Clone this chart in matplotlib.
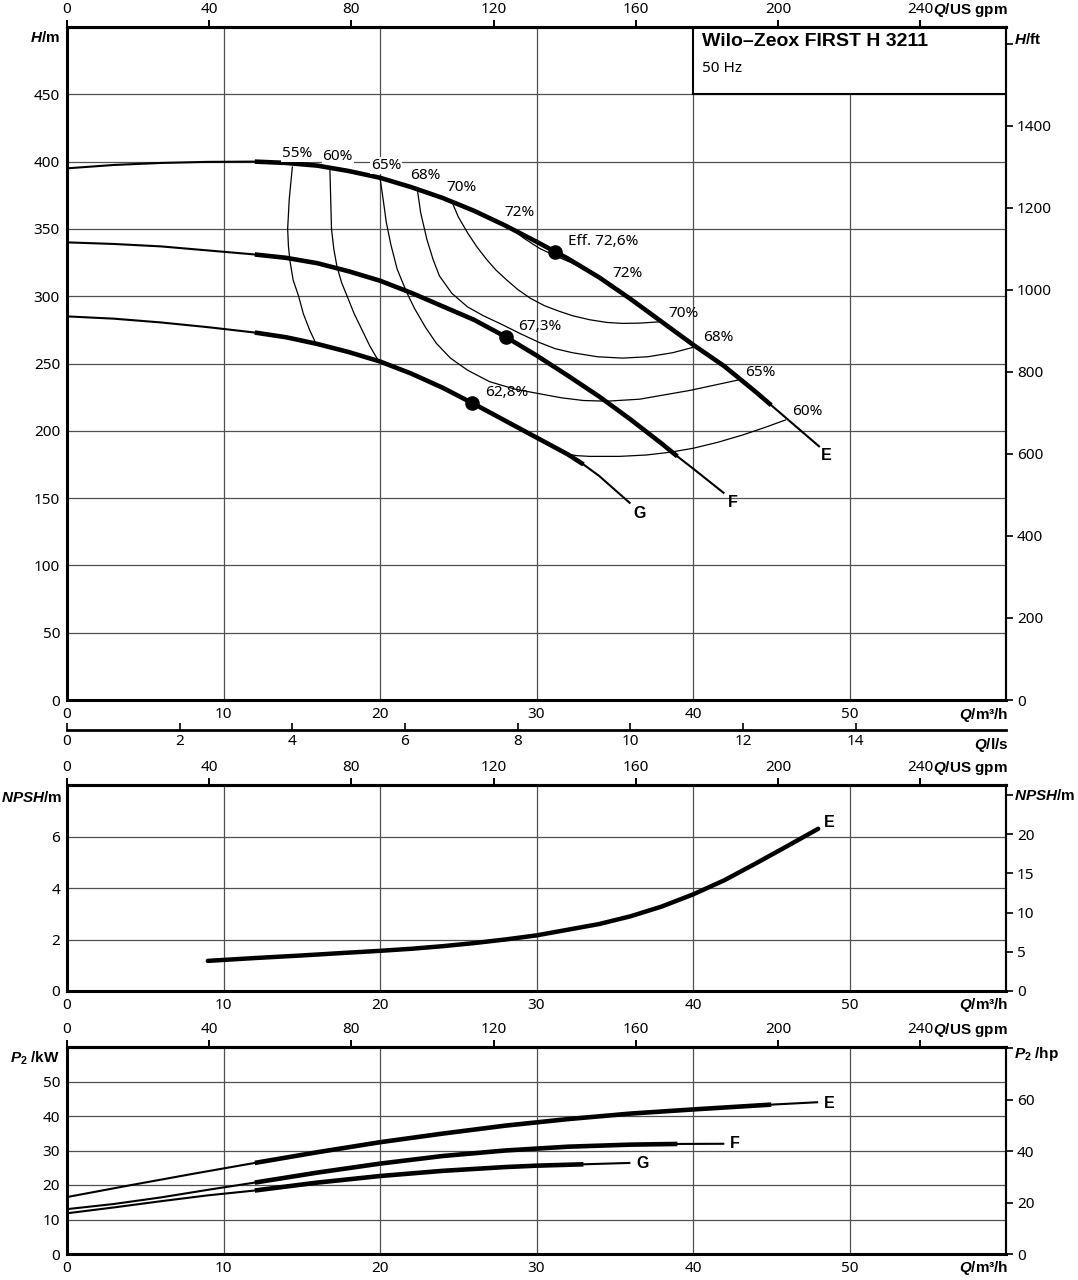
import numpy as np
import matplotlib.pyplot as plt
from matplotlib.patches import Rectangle

plt.rcParams['font.family'] = ['Noto Sans', 'DejaVu Sans']
plt.rcParams['mathtext.fontset'] = 'custom'
plt.rcParams['mathtext.rm'] = 'Liberation Sans:bold'
plt.rcParams['mathtext.it'] = 'Liberation Sans:italic:bold'
plt.rcParams['mathtext.bf'] = 'Liberation Sans:bold'
BOLD = 'Liberation Sans'

GPM = 4.40287   # US gpm per m3/h
FT = 3.28084    # ft per m
HP = 1.34102    # hp per kW

# ---- head curves, Q in m3/h, H in m
q_E = [0, 3, 6, 9, 12, 14, 16, 18, 20, 22, 24, 26, 28, 30, 31.2, 32, 34, 36, 38, 40,
       42, 44, 45, 46.5, 48.1]
h_E = [395, 397.5, 399, 399.8, 400, 399, 397, 393, 388, 381, 373, 363.5, 352.5, 340.5,
       333, 328, 314, 298, 281, 264, 248, 229, 219, 204, 188]
q_F = [0, 3, 6, 9, 12, 14, 16, 18, 20, 22, 24, 26, 28, 30, 32, 34, 36, 38, 39, 40, 42]
h_F = [340, 338.8, 337, 334, 331, 328.5, 324.5, 318.5, 311.5, 302.5, 292.5, 282.5, 270,
       256, 241, 225.5, 208.5, 190.5, 181, 172, 153.5]
q_G = [0, 3, 6, 9, 12, 14, 16, 18, 20, 22, 24, 26, 28, 30, 32, 33, 34, 36]
h_G = [285, 283.3, 280.5, 277, 273, 269.5, 264.5, 258.5, 251.5, 242.5, 232, 220, 207.5,
       195, 182.5, 175, 166.5, 146]
thick_E = (12, 45)
thick_F = (12, 39)
thick_G = (12, 33)

# best efficiency points
bep_q = [31.2, 28.05, 25.9]
bep_h = [333, 269.5, 220.6]
bep_txt = ['Eff. 72,6%', '67,3%', '62,8%']

# iso-efficiency lines
eta55_q = [14.4, 14.2, 14.1, 14.15, 14.25, 14.45, 14.8, 15.1, 15.5, 15.9]
eta55_h = [396, 372, 350, 337, 326, 312, 300, 287, 275, 265]
eta60_q = [16.8, 16.85, 16.9, 17.05, 17.25, 17.55, 17.9, 18.35, 18.85, 19.35, 19.9]
eta60_h = [394, 372, 350, 335, 322, 310, 300, 287, 275, 263, 252]
eta60b_q = [31.8, 32.6, 33.4, 35.3, 37, 38.5, 40, 41.6, 43.2, 44.6, 45.9]
eta60b_h = [183, 181.5, 181, 181, 182, 184, 187, 191.5, 197, 202.5, 208]
eta65_q = [20.0, 20.2, 20.4, 20.7, 21.1, 21.7, 22.2, 22.9, 23.6, 24.5, 25.6, 27.0, 28.6,
           30.2, 31.6, 33.0, 34.5, 36.6, 39.8, 43.0]
eta65_h = [388, 372, 355, 338, 320, 303, 291, 277, 265, 254, 245, 236.5, 231, 227.5,
           224.5, 222.5, 222, 223.5, 230, 238]
eta68_q = [22.4, 22.6, 23.0, 23.4, 23.8, 24.6, 25.6, 26.6, 27.7, 29, 30.2, 31.2, 32.3,
           33.9, 35.5, 37.1, 38.7, 40.0]
eta68_h = [378, 362, 342, 327, 315, 302, 292, 285.5, 279.5, 272, 265.5, 261, 258, 255,
           254, 255, 258, 262]
eta70_q = [24.6, 25.0, 25.6, 26.2, 26.8, 27.4, 28.1, 28.8, 29.6, 30.5, 31.4, 32.3, 33.4,
           34.5, 35.5, 36.6, 37.9]
eta70_h = [370, 359, 347, 336.5, 327.5, 319.5, 312, 305, 298.5, 293, 289, 285.5, 282.5,
           280.5, 279.8, 280, 281]
eta72_q = [28.3, 29.2, 30.2, 31.2, 32.3, 33.2, 34.1]
eta72_h = [351, 343, 335.5, 330, 324.5, 319, 313.5]

eta_labels = ['55%', '60%', '65%', '68%', '70%', '72%', '72%', '70%', '68%', '65%', '60%']
eta_lab_q = [14.7, 17.3, 20.4, 22.9, 25.2, 28.9, 35.8, 39.4, 41.6, 44.3, 47.3]
eta_lab_h = [406, 404, 397, 390, 381, 362, 317, 287, 269, 243, 214]

# NPSH curve
npsh_q = [9, 12, 15, 18, 20, 22, 24, 26, 28, 30, 32, 34, 36, 38, 40, 42, 44, 46, 48]
npsh_v = [1.17, 1.28, 1.38, 1.49, 1.56, 1.64, 1.74, 1.86, 2.0, 2.16, 2.38, 2.6, 2.9,
          3.28, 3.75, 4.3, 4.95, 5.62, 6.3]

# shaft power P2 in kW
p_qE = [0, 4, 8, 12, 16, 20, 24, 28, 32, 36, 40, 45, 48]
p_E = [16.5, 19.9, 23.2, 26.4, 29.5, 32.4, 34.9, 37.2, 39.1, 40.7, 41.9, 43.3, 44.0]
p_qF = [0, 3, 6, 9, 12, 16, 20, 24, 28, 32, 36, 39, 42]
p_F = [13.0, 14.5, 16.4, 18.6, 20.7, 23.6, 26.2, 28.4, 30.0, 31.1, 31.7, 31.9, 31.95]
p_qG = [0, 3, 6, 9, 12, 16, 20, 24, 28, 30, 33, 36]
p_G = [11.8, 13.5, 15.3, 17.0, 18.4, 20.7, 22.6, 24.1, 25.2, 25.6, 26.0, 26.4]

W, HT = 1078, 1280
fig = plt.figure(figsize=(W / 100, HT / 100), dpi=100)


def box(l, t, r, b):
    return [l / W, 1 - b / HT, (r - l) / W, (b - t) / HT]


def ftxt(x, y, s, **kw):
    fig.text(x / W, 1 - y / HT, s, **kw)


def style(ax, ymax, yticks, rfun, rticks, rtop):
    ax.set_xlim(0, 60)
    ax.set_ylim(0, ymax)
    ax.set_xticks([0, 10, 20, 30, 40, 50])
    ax.set_yticks(yticks)
    ax.grid(True, color='#505050', lw=0.9)
    ax.set_axisbelow(True)
    ax.tick_params(length=0, labelsize=11, pad=5)
    for s in ['left', 'bottom', 'top']:
        ax.spines[s].set_linewidth(2.2)
    ax.spines['right'].set_linewidth(1.5)
    top = ax.secondary_xaxis('top', functions=(lambda q: q * GPM, lambda g: g / GPM))
    top.set_ticks(list(range(0, 241, 40)))
    top.tick_params(direction='out', length=5, width=1.4, labelsize=11, pad=2)
    for sp in top.spines.values():
        sp.set_linewidth(2.2)
    r = ax.secondary_yaxis('right', functions=rfun)
    r.set_ticks(rticks + [rtop], labels=[str(v) for v in rticks] + [''])
    r.tick_params(direction='out', length=5, width=1.2, labelsize=11, pad=3)
    for sp in r.spines.values():
        sp.set_linewidth(1.5)


def curve(ax, q, v, thick):
    q = np.array(q)
    v = np.array(v)
    ax.plot(q, v, color='k', lw=1.5, solid_capstyle='butt', zorder=3)
    m = (q >= thick[0]) & (q <= thick[1])
    ax.plot(q[m], v[m], color='k', lw=3.3, solid_capstyle='butt',
            solid_joinstyle='round', zorder=3)


def name(ax, q, v, t):
    ax.text(q, v, t, fontsize=11.5, fontweight='bold', family=BOLD,
            ha='center', va='center')


# ---------------- head panel
ax = fig.add_axes(box(67, 27, 1006, 700))
style(ax, 500, list(range(0, 451, 50)),
      (lambda h: h * FT, lambda f: f / FT), list(range(0, 1401, 200)), 1600)

ls = ax.secondary_xaxis(-30 / 673, functions=(lambda q: q / 3.6, lambda l: l * 3.6))
ls.set_ticks(list(range(0, 15, 2)))
ls.tick_params(direction='in', length=5, width=1.2, labelsize=11, pad=3)
for sp in ls.spines.values():
    sp.set_linewidth(2)

for q, h in [(eta55_q, eta55_h), (eta60_q, eta60_h), (eta60b_q, eta60b_h),
             (eta65_q, eta65_h), (eta68_q, eta68_h), (eta70_q, eta70_h),
             (eta72_q, eta72_h)]:
    ax.plot(q, h, color='k', lw=0.9, zorder=2.5)

curve(ax, q_E, h_E, thick_E)
curve(ax, q_F, h_F, thick_F)
curve(ax, q_G, h_G, thick_G)
ax.plot(bep_q, bep_h, 'o', color='k', ms=9.5, zorder=5)
for q, h, t in zip(bep_q, bep_h, bep_txt):
    ax.text(q + 0.8, h + 8, t, fontsize=11, ha='left', va='center', zorder=4)

for i, (t, q, h) in enumerate(zip(eta_labels, eta_lab_q, eta_lab_h)):
    bb = dict(fc='white', ec='none', pad=0.6) if i < 3 else None
    ax.text(q, h, t, fontsize=11, ha='center', va='center', bbox=bb, zorder=4)

name(ax, 48.5, 181.5, 'E')
name(ax, 42.55, 146.6, 'F')
name(ax, 36.6, 138.4, 'G')

ax.add_patch(Rectangle((40, 450), 20, 50, fc='white', ec='k', lw=1.5, zorder=2))
ax.text(40.6, 489, 'Wilo–Zeox FIRST H 3211', fontsize=14, fontweight='bold',
        family=BOLD, ha='left', va='center', zorder=4)
ax.text(40.6, 469, '50 Hz', fontsize=11, ha='left', va='center', zorder=4)

# ---------------- NPSH panel
axn = fig.add_axes(box(67, 785, 1006, 991))
style(axn, 8, [0, 2, 4, 6], (lambda h: h * FT, lambda f: f / FT), [0, 5, 10, 15, 20], 25)
axn.plot(npsh_q, npsh_v, color='k', lw=3.2, solid_capstyle='round', zorder=3)
name(axn, 48.7, 6.54, 'E')

# ---------------- P2 panel
axp = fig.add_axes(box(67, 1047, 1006, 1254))
style(axp, 60, [0, 10, 20, 30, 40, 50], (lambda p: p * HP, lambda h: h / HP),
      [0, 20, 40, 60], 80)
curve(axp, p_qE, p_E, (12, 45))
curve(axp, p_qF, p_F, (12, 39))
curve(axp, p_qG, p_G, (12, 33))
name(axp, 48.7, 43.6, 'E')
name(axp, 42.7, 32.0, 'F')
name(axp, 36.8, 26.2, 'G')

# ---------------- axis captions
lab = dict(fontsize=11, fontweight='bold', family=BOLD, va='center')
ftxt(60, 37, '$H$/m', ha='right', **lab)
ftxt(1014, 40, '$H$/ft', ha='left', **lab)
for y in [10, 768, 1030]:
    ftxt(1008, y, '$Q$/US gpm', ha='right', **lab)
for y in [715, 1005, 1268]:
    ftxt(1008, y, '$Q$/m³/h', ha='right', **lab)
ftxt(1008, 745, '$Q$/l/s', ha='right', **lab)
ftxt(62, 797, '$NPSH$/m', ha='right', **lab)
ftxt(1014, 795, '$NPSH$/m', ha='left', **lab)
ftxt(60, 1058, '$P_2$ /kW', ha='right', **lab)
ftxt(1014, 1054, '$P_2$ /hp', ha='left', **lab)

fig.savefig('out.png', dpi=100)
